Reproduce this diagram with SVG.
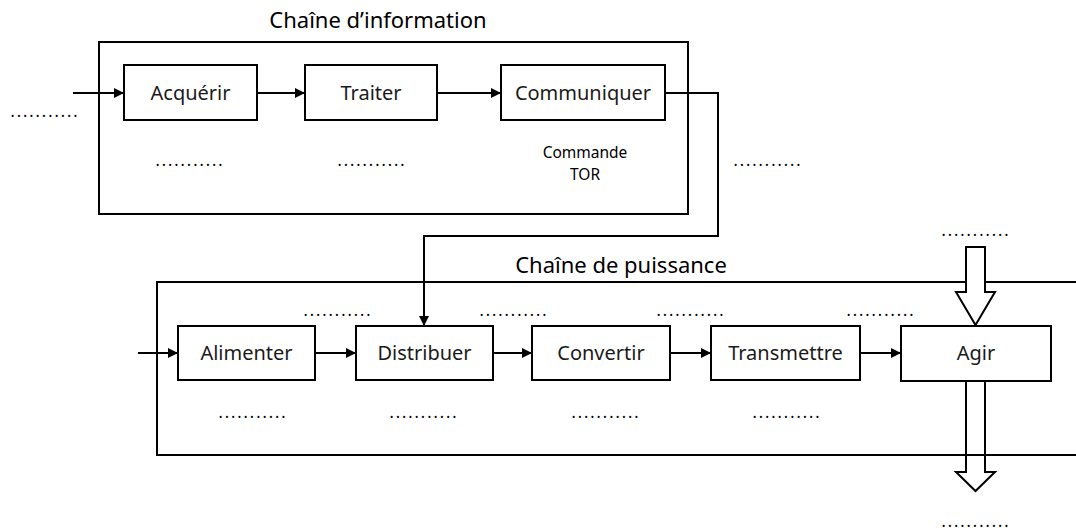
<svg xmlns="http://www.w3.org/2000/svg" width="1076" height="532" viewBox="0 0 1076 532">
<style>
  .box{fill:#fff;stroke:#000;stroke-width:2}
  .frame{fill:none;stroke:#000;stroke-width:2}
  .t{font-family:"Noto Sans","Open Sans",sans-serif;font-size:20px;fill:#1a1a1a;text-anchor:middle}
  .title{font-family:"Noto Sans","Open Sans",sans-serif;font-size:22px;fill:#000;text-anchor:middle}
  .small{font-family:"Noto Sans","Open Sans",sans-serif;font-size:15.5px;fill:#000;text-anchor:middle}
  .dots{font-family:"Noto Sans","Open Sans",sans-serif;font-size:16px;fill:#000;text-anchor:middle;letter-spacing:2px}
  .c{fill:none;stroke:#000;stroke-width:2}
  .hollow{fill:#fff;stroke:#000;stroke-width:2;stroke-linejoin:miter}
</style>
<defs>
  <marker id="ah" viewBox="0 0 10 10" refX="10" refY="5" markerWidth="5" markerHeight="5" orient="auto" markerUnits="strokeWidth">
    <path d="M0,0 L10,5 L0,10 z" fill="#000"/>
  </marker>
</defs>
<rect width="1076" height="532" fill="#fff"/>

<!-- bottom hollow arrow drawn under the power-chain frame -->
<g id="arrow-out">
  <path class="hollow" d="M966,381 L985,381 L985,472 L995,472 L975.5,491 L956,472 L966,472 Z"/>
</g>

<g id="chaine-information">
  <rect class="frame" x="99" y="42" width="589" height="172"/>
  <text class="title" x="378" y="28">Chaîne d’information</text>
</g>
<g id="chaine-puissance">
  <path class="frame" d="M1076,282 L157,282 L157,455 L1076,455"/>
  <text class="title" x="621" y="273">Chaîne de puissance</text>
</g>

<g id="connectors">
  <line class="c" x1="73" y1="93" x2="124" y2="93" marker-end="url(#ah)"/>
  <line class="c" x1="257" y1="93" x2="305" y2="93" marker-end="url(#ah)"/>
  <line class="c" x1="437" y1="93" x2="501" y2="93" marker-end="url(#ah)"/>
  <path class="c" d="M665,93 L718,93 L718,236 L424,236 L424,326" marker-end="url(#ah)"/>
  <line class="c" x1="138" y1="353" x2="178" y2="353" marker-end="url(#ah)"/>
  <line class="c" x1="315" y1="353" x2="356" y2="353" marker-end="url(#ah)"/>
  <line class="c" x1="493" y1="353" x2="532" y2="353" marker-end="url(#ah)"/>
  <line class="c" x1="670" y1="353" x2="711" y2="353" marker-end="url(#ah)"/>
  <line class="c" x1="860" y1="353" x2="901" y2="353" marker-end="url(#ah)"/>
</g>

<g id="arrow-in">
  <path class="hollow" d="M966,247 L985,247 L985,292 L995,292 L975.5,325 L956,292 L966,292 Z"/>
</g>

<g id="acquerir">
  <rect class="box" x="124" y="65" width="133" height="55"/>
  <text class="t" x="190.5" y="100">Acquérir</text>
</g>
<g id="traiter">
  <rect class="box" x="305" y="65" width="132" height="55"/>
  <text class="t" x="371" y="100">Traiter</text>
</g>
<g id="communiquer">
  <rect class="box" x="501" y="65" width="164" height="55"/>
  <text class="t" x="583" y="100">Communiquer</text>
</g>

<g id="alimenter">
  <rect class="box" x="178" y="326" width="137" height="54"/>
  <text class="t" x="246.5" y="360">Alimenter</text>
</g>
<g id="distribuer">
  <rect class="box" x="356" y="326" width="137" height="54"/>
  <text class="t" x="424.5" y="360">Distribuer</text>
</g>
<g id="convertir">
  <rect class="box" x="532" y="326" width="138" height="54"/>
  <text class="t" x="601" y="360">Convertir</text>
</g>
<g id="transmettre">
  <rect class="box" x="711" y="326" width="149" height="54"/>
  <text class="t" x="785.5" y="360">Transmettre</text>
</g>
<g id="agir">
  <rect class="box" x="901" y="326" width="150" height="55"/>
  <text class="t" x="976" y="360">Agir</text>
</g>

<g id="labels">
  <text class="small" x="585" y="158">Commande</text>
  <text class="small" x="585" y="180">TOR</text>
  <text class="dots" x="45" y="117">...........</text>
  <text class="dots" x="190" y="166">...........</text>
  <text class="dots" x="372" y="166">...........</text>
  <text class="dots" x="768" y="166">...........</text>
  <text class="dots" x="976" y="236">...........</text>
  <text class="dots" x="338" y="316">...........</text>
  <text class="dots" x="514" y="316">...........</text>
  <text class="dots" x="691" y="316">...........</text>
  <text class="dots" x="881" y="316">...........</text>
  <text class="dots" x="253" y="418">...........</text>
  <text class="dots" x="424" y="418">...........</text>
  <text class="dots" x="606" y="418">...........</text>
  <text class="dots" x="787" y="418">...........</text>
  <text class="dots" x="976" y="527">...........</text>
</g>
</svg>
